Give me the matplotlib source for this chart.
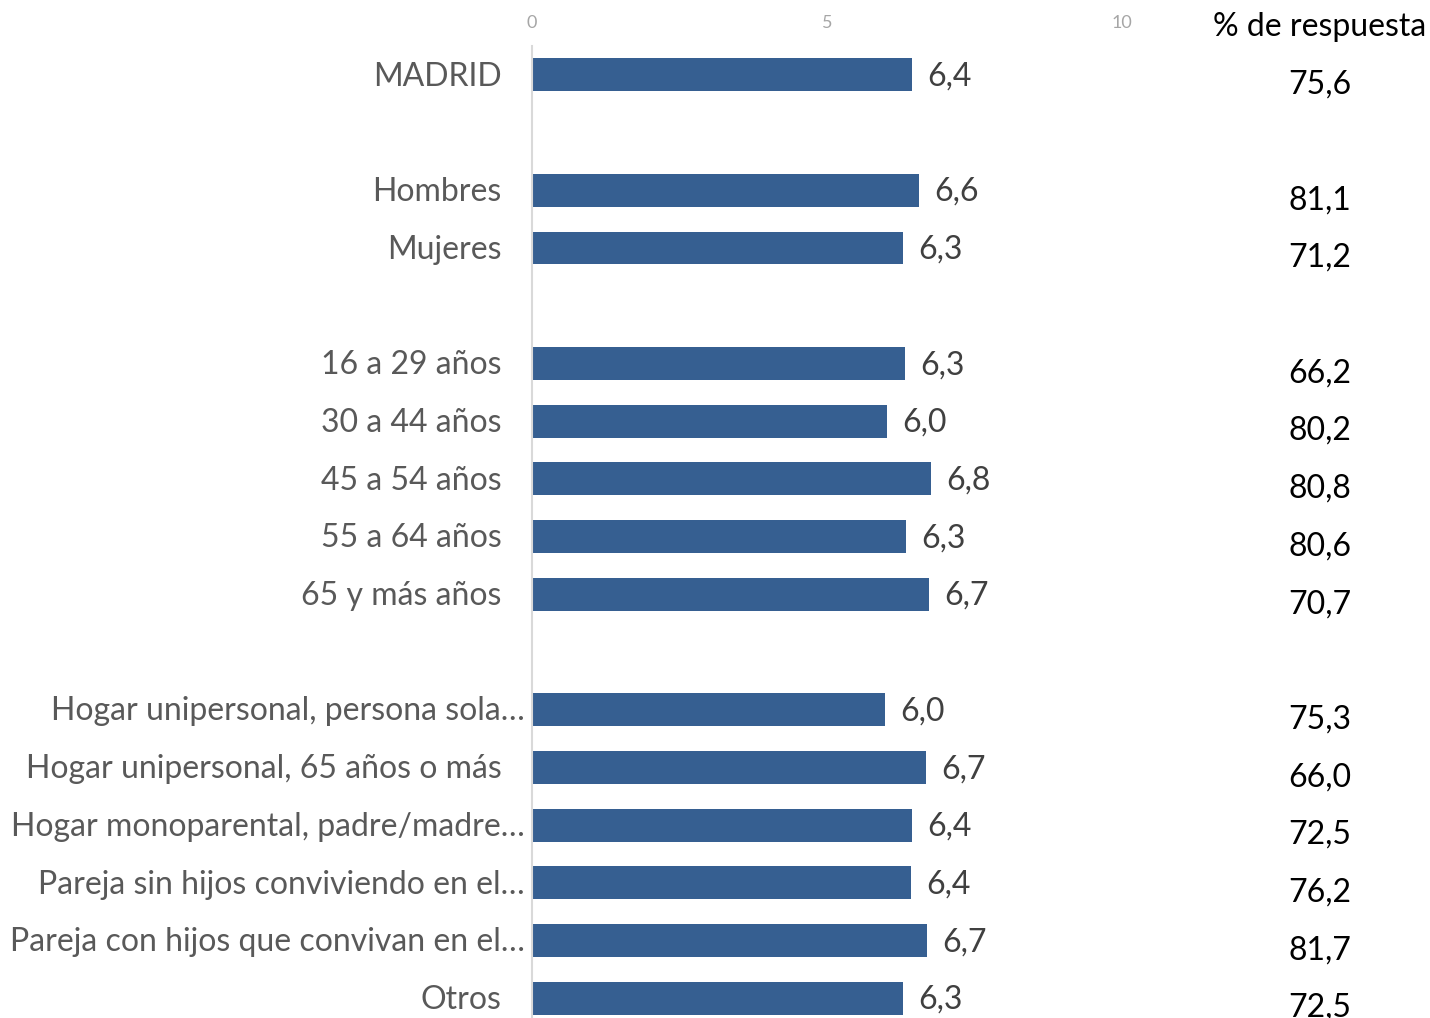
import matplotlib.pyplot as plt
from matplotlib import transforms

plt.rcParams['font.family'] = ['Lato', 'DejaVu Sans']

# filas del gráfico ("" = fila vacía de separación)
categorias = ["MADRID", "",
              "Hombres", "Mujeres", "",
              "16 a 29 años", "30 a 44 años", "45 a 54 años", "55 a 64 años", "65 y más años", "",
              "Hogar unipersonal, persona sola…", "Hogar unipersonal, 65 años o más",
              "Hogar monoparental, padre/madre…", "Pareja sin hijos conviviendo en el…",
              "Pareja con hijos que convivan en el…", "Otros"]
valores = [6.44, None,
           6.56, 6.29, None,
           6.32, 6.02, 6.76, 6.34, 6.73, None,
           5.98, 6.68, 6.44, 6.42, 6.69, 6.29]
respuesta = [75.6, None,
             81.1, 71.2, None,
             66.2, 80.2, 80.8, 80.6, 70.7, None,
             75.3, 66.0, 72.5, 76.2, 81.7, 72.5]
ticks = [0, 5, 10]

azul = '#365f91'
gris = '#595959'
fs = 23

fig = plt.figure(figsize=(14.3, 10.18), dpi=100)
ax = fig.add_axes([532/1430, 0, (1122-532)/1430, 1 - 46/1018])
tr = transforms.blended_transform_factory(fig.transFigure, ax.transData)

for i, (cat, v, r) in enumerate(zip(categorias, valores, respuesta)):
    if v is None:
        continue
    ax.barh(i, v, height=0.57, color=azul)
    ax.annotate(f"{v:.1f}".replace('.', ','), (v, i + 0.03), xytext=(11, 0),
                textcoords='offset points', va='center', ha='left',
                fontsize=fs, color='#404040')
    # etiqueta de categoría
    dx = -5 if cat.endswith('…') else -22
    ax.annotate(cat, (0, i + 0.03), xytext=(dx, 0), textcoords='offset points',
                va='center', ha='right', fontsize=fs, color=gris)
    # columna % de respuesta
    ax.text(1320/1430, i + 0.17, f"{r:.1f}".replace('.', ','), transform=tr,
            ha='center', va='center', fontsize=fs, color='black', clip_on=False)

ax.text(1320/1430, 1 - 27/1018, "% de respuesta", transform=fig.transFigure,
        ha='center', va='center', fontsize=fs, color='black')

ax.set_xlim(0, 10)
ax.set_ylim((1018 - 75) / 57.7, -0.5)
ax.set_xticks(ticks)
ax.xaxis.tick_top()
ax.tick_params(axis='x', length=0, pad=11, labelsize=13, labelcolor='#a6a6a6')
ax.set_yticks([])
for s in ['top', 'right', 'bottom']:
    ax.spines[s].set_visible(False)
ax.spines['left'].set_color('#d9d9d9')
ax.spines['left'].set_linewidth(1.5)
ax.set_facecolor('none')

fig.savefig('out.png', dpi=100, facecolor='white')
